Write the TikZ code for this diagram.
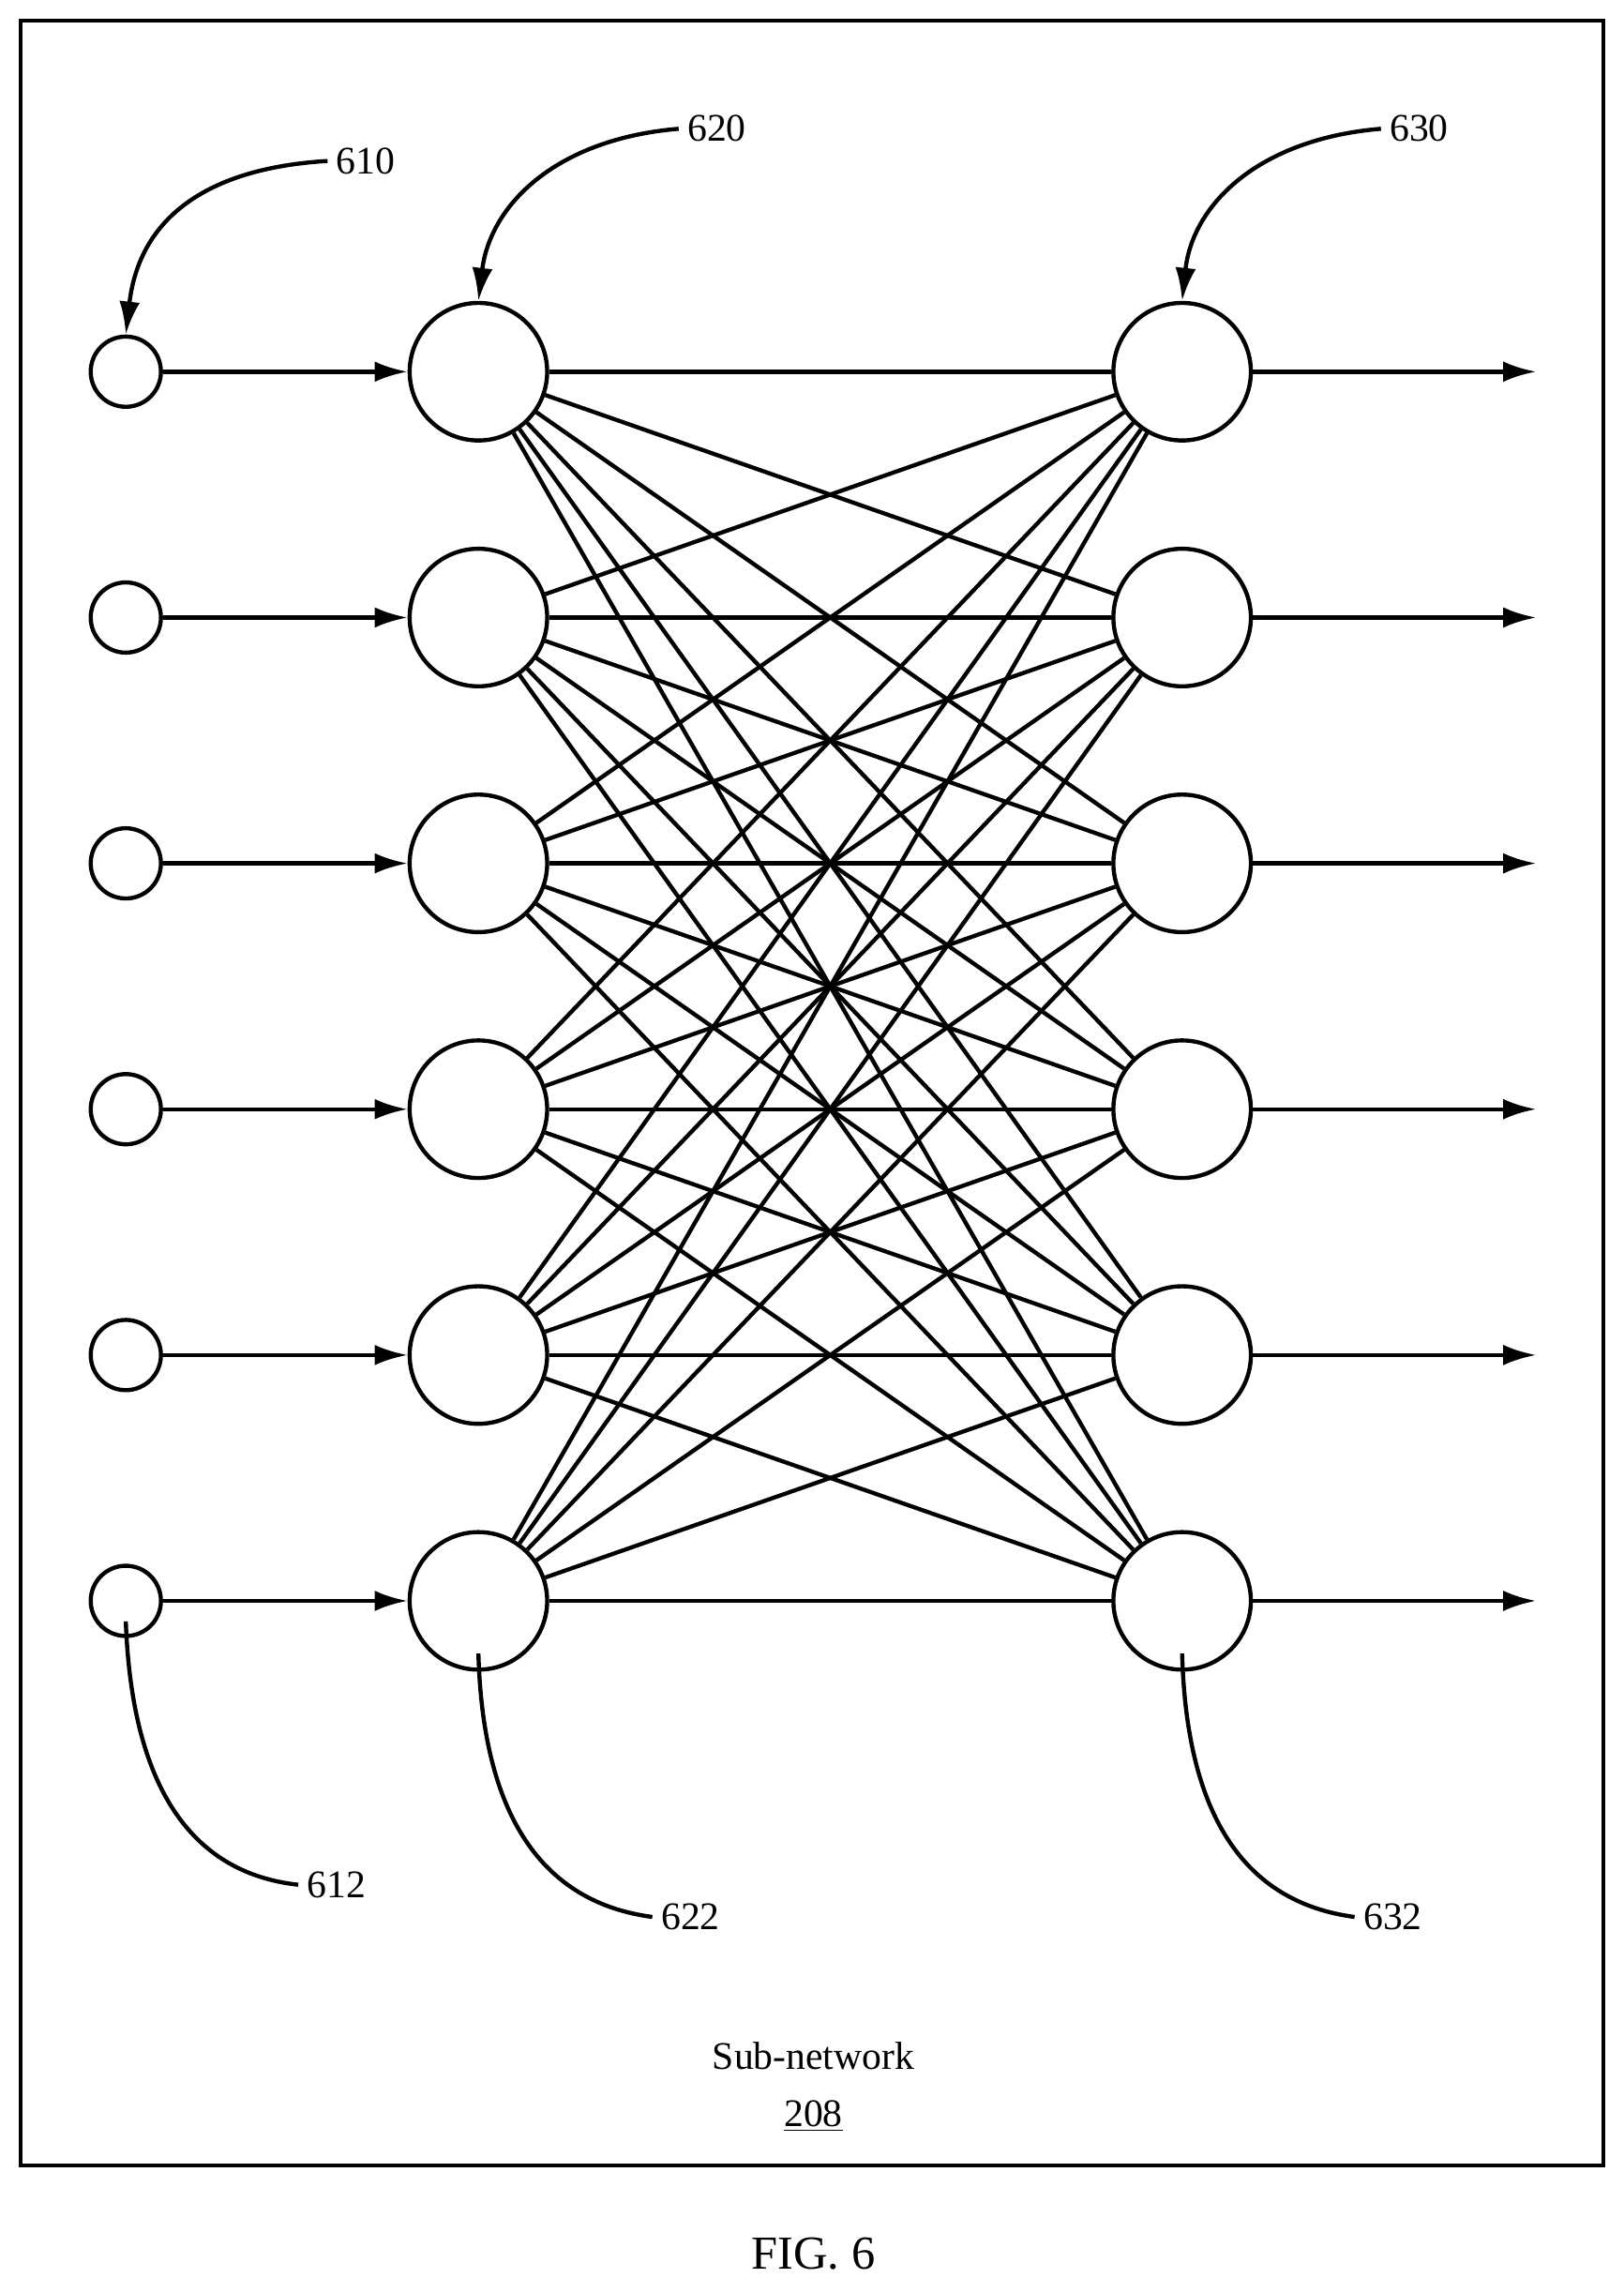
\documentclass[tikz,border=0pt]{standalone}
\usepackage{fontspec}
\setmainfont{Liberation Serif}
\usepackage{tikz}
\usetikzlibrary{arrows.meta,positioning}

\begin{document}
\begin{tikzpicture}[x=0.025cm,y=-0.025cm,line width=2pt,
	    inp/.style={circle,draw,minimum size=48*0.025cm,inner sep=0pt},
	    unit/.style={circle,draw,minimum size=94*0.025cm,inner sep=0pt},
	    lbl/.style={font=\fontsize{19}{22}\selectfont},
	    >={Latex[length=16pt,width=10pt]}]
	     \useasboundingbox (0,0) rectangle (1110,1567);
	     \draw (14,14) rectangle (1096,1480);
	     \foreach \i/\y in {1/254,2/422,3/590,4/758,5/926,6/1094} {
	       \node[inp] (x\i) at (86,\y) {};
	       \node[unit] (h\i) at (327,\y) {};
	       \node[unit] (o\i) at (808,\y) {};
	       \coordinate (e\i) at (1050,\y);
	       \draw[->] (x\i) -- (h\i);
	       \draw[->] (o\i) -- (e\i);
	     }
	     \foreach \i in {1,...,6}
	       \foreach \j in {1,...,6}
	         \draw (h\i) -- (o\j);

	     % reference labels
	     \node[lbl] (l610) at (250,110) {610};
	     \node[lbl] (l620) at (490,88) {620};
	     \node[lbl] (l630) at (970,88) {630};
	     \node[lbl] (l612) at (230,1288) {612};
	     \node[lbl] (l622) at (472,1310) {622};
	     \node[lbl] (l632) at (952,1310) {632};
	     \draw[->] (l610.west) .. controls (140,115) and (95,150) .. (x1.north);
	     \draw[->] (l620.west) .. controls (380,95) and (335,140) .. (h1.north);
	     \draw[->] (l630.west) .. controls (860,95) and (815,140) .. (o1.north);
	     \draw (86,1108) .. controls (90,1220) and (130,1280) .. (l612.west);
	     \draw (327,1130) .. controls (330,1240) and (370,1300) .. (l622.west);
	     \draw (808,1130) .. controls (811,1240) and (850,1300) .. (l632.west);

	     \node[lbl] (title) at (556,1405) {Sub-network};
	     \node[lbl] (num) at (556,1446) {\underline{208}};
	     \node[font=\fontsize{23}{26}\selectfont] (fig) at (556,1540) {FIG. 6};
\end{tikzpicture}
\end{document}
